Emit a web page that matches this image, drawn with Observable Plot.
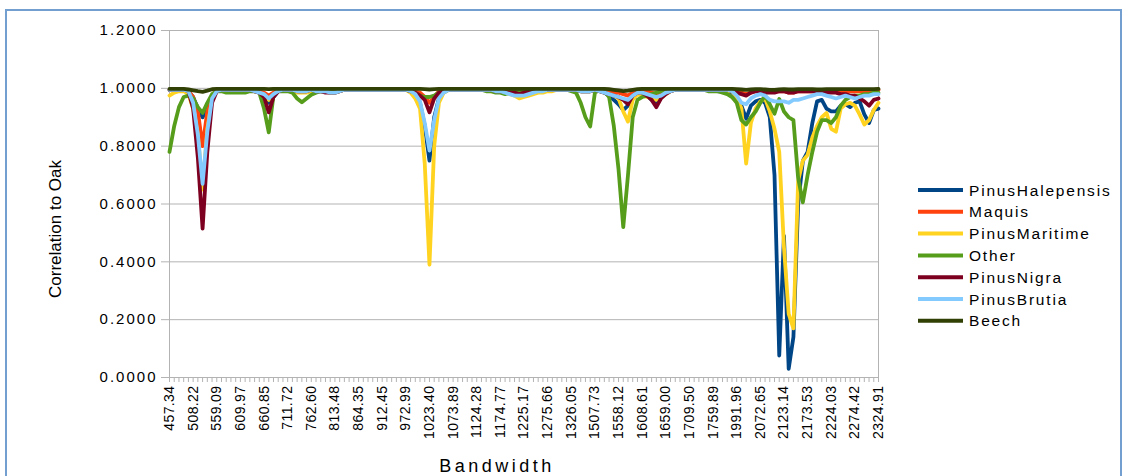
<!DOCTYPE html>
<html><head><meta charset="utf-8">
<script src="https://cdn.jsdelivr.net/npm/d3@7"></script>
<script src="https://cdn.jsdelivr.net/npm/@observablehq/plot@0.6"></script>
<style>
html,body{margin:0;padding:0;background:#fff;overflow:hidden}
#chart svg{display:block;font-family:"Liberation Sans",Arial,sans-serif}
#chart svg [aria-label="y-axis tick label"] text{letter-spacing:2px}
#chart svg [aria-label="x-axis tick label"] text{letter-spacing:0.4px}
</style></head><body><div id="chart"></div>
<script>
const bands = [
"457.34","467.52","477.69","487.87","498.04","508.22","518.39","528.57","538.74","548.92",
"559.09","569.27","579.45","589.62","599.80","609.97","620.15","630.32","640.50","650.67",
"660.85","671.02","681.20","691.37","701.55","711.72","721.90","732.07","742.25","752.43",
"762.60","772.78","782.95","793.13","803.30","813.48","823.65","833.83","844.00","854.18",
"864.35","874.53","884.70","894.88","905.05","912.45","922.54","932.64","952.82","962.91",
"972.99","983.08","993.17","1003.30","1013.30","1023.40","1033.49","1043.59","1053.69","1063.79",
"1073.89","1083.99","1094.09","1104.19","1114.19","1124.28","1134.38","1144.48","1154.58","1164.68",
"1174.77","1184.87","1194.97","1205.07","1215.17","1225.17","1235.27","1245.36","1255.46","1265.56",
"1275.66","1285.76","1295.86","1305.96","1316.05","1326.05","1336.15","1346.25","1487.53","1497.63",
"1507.73","1517.83","1527.92","1537.92","1548.02","1558.12","1568.22","1578.32","1588.42","1598.51",
"1608.61","1618.71","1628.81","1638.81","1648.90","1659.00","1669.10","1679.20","1689.20","1699.40",
"1709.50","1719.60","1729.70","1739.70","1749.79","1759.89","1769.99","1780.09","1971.85","1981.86",
"1991.96","2002.06","2012.16","2052.45","2062.55","2072.65","2082.75","2092.84","2102.94","2113.04",
"2123.14","2133.24","2143.34","2153.34","2163.43","2173.53","2183.63","2193.73","2203.83","2213.93",
"2224.03","2234.12","2244.22","2254.22","2264.32","2274.42","2284.52","2294.61","2304.71","2314.81",
"2324.91"];

const tickLabels = ["457.34","508.22","559.09","609.97","660.85","711.72","762.60","813.48","864.35","912.45",
"972.99","1023.40","1073.89","1124.28","1174.77","1225.17","1275.66","1326.05","1507.73","1558.12",
"1608.61","1659.00","1709.50","1759.89","1991.96","2072.65","2123.14","2173.53","2224.03","2274.42","2324.91"];

const yTicks = [0, 0.2, 0.4, 0.6, 0.8, 1.0, 1.2];

const seriesNames = ["PinusHalepensis","Maquis","PinusMaritime","Other","PinusNigra","PinusBrutia","Beech"];
const seriesColors = ["#004586","#ff420e","#ffd320","#579d1c","#7e0021","#83caff","#314004"];

const pinusHalepensis = [
.995,.995,.995,.995,.99,.97,.93,.90,.93,.97,
.99,.995,.995,.995,.995,.995,.995,.995,.99,.985,
.97,.95,.97,.99,.995,.995,.995,.99,.99,.99,
.995,.995,.99,.99,.985,.985,.99,.995,.995,.995,
.995,.995,.995,.995,.995,.995,.995,.995,.995,.995,
.995,.99,.98,.95,.87,.75,.90,.965,.985,.995,
.995,.995,.995,.995,.995,.995,.995,.995,.995,.99,
.99,.99,.985,.98,.975,.98,.985,.99,.99,.995,
.995,.995,.995,.995,.995,.995,.995,.99,.99,.99,
.995,.99,.985,.975,.96,.945,.925,.94,.97,.985,
.985,.975,.96,.95,.97,.985,.99,.995,.995,.995,
.995,.995,.995,.995,.995,.995,.99,.99,.99,.985,
.97,.94,.895,.94,.955,.96,.95,.90,.70,.076,
.49,.03,.14,.60,.75,.78,.88,.955,.96,.93,
.92,.92,.94,.945,.935,.95,.955,.91,.88,.925,
.93];

const maquis = [
.995,.995,.995,.995,.99,.97,.92,.80,.92,.975,
.995,.995,.995,.995,.995,.995,.995,.995,.99,.99,
.985,.975,.985,.995,.995,.995,.995,.995,.995,.995,
.995,.995,.995,.99,.99,.99,.995,.995,.995,.995,
.995,.995,.995,.995,.995,.995,.995,.995,.995,.995,
.995,.995,.99,.985,.97,.95,.97,.99,.995,.995,
.995,.995,.995,.995,.995,.995,.995,.995,.995,.995,
.995,.995,.99,.99,.99,.99,.99,.995,.995,.995,
.995,.995,.995,.995,.995,.995,.995,.995,.995,.995,
.995,.995,.99,.99,.985,.985,.98,.975,.985,.99,
.99,.99,.985,.98,.985,.99,.995,.995,.995,.995,
.995,.995,.995,.995,.995,.995,.995,.995,.995,.99,
.99,.985,.98,.985,.99,.99,.99,.99,.99,.99,
.99,.985,.985,.99,.99,.99,.99,.99,.99,.99,
.99,.99,.99,.99,.99,.99,.99,.99,.985,.99,
.995];

const pinusMaritime = [
.975,.985,.99,.99,.98,.93,.84,.65,.86,.96,
.99,.995,.995,.995,.995,.995,.995,.995,.99,.985,
.975,.96,.975,.99,.995,.995,.99,.985,.985,.985,
.99,.99,.99,.99,.985,.985,.99,.995,.995,.995,
.995,.995,.995,.995,.995,.995,.995,.995,.995,.995,
.995,.985,.965,.93,.74,.39,.80,.95,.985,.995,
.995,.995,.995,.995,.995,.995,.995,.995,.99,.99,
.99,.985,.98,.975,.965,.97,.975,.98,.985,.985,
.99,.99,.995,.995,.995,.995,.995,.99,.99,.99,
.995,.99,.985,.98,.975,.965,.92,.885,.96,.98,
.975,.97,.965,.96,.97,.98,.99,.995,.995,.995,
.995,.995,.995,.995,.995,.995,.995,.99,.99,.99,
.97,.93,.74,.88,.93,.955,.965,.92,.86,.78,
.45,.22,.17,.68,.75,.77,.83,.87,.90,.915,
.86,.85,.93,.945,.95,.94,.91,.875,.89,.925,
.95];

const other = [
.78,.87,.935,.97,.975,.965,.935,.915,.95,.98,
.99,.99,.985,.985,.985,.985,.985,.99,.99,.985,
.93,.848,.975,.99,.99,.99,.985,.965,.952,.965,
.978,.985,.99,.99,.99,.99,.995,.995,.995,.995,
.995,.995,.995,.995,.995,.995,.995,.995,.995,.995,
.995,.99,.985,.975,.97,.97,.975,.985,.99,.995,
.995,.995,.995,.995,.995,.995,.995,.99,.99,.985,
.985,.98,.985,.99,.99,.99,.99,.995,.995,.995,
.995,.995,.995,.995,.995,.99,.985,.95,.90,.868,
.985,.995,.99,.97,.87,.72,.52,.70,.90,.96,
.97,.975,.98,.985,.99,.99,.995,.995,.995,.995,
.995,.995,.995,.995,.99,.99,.99,.985,.98,.97,
.95,.89,.875,.90,.92,.95,.975,.945,.912,.963,
.92,.90,.89,.69,.606,.70,.78,.85,.89,.89,
.88,.90,.94,.96,.97,.975,.975,.98,.98,.985,
.985];

const pinusNigra = [
.995,.995,.995,.995,.99,.93,.76,.515,.78,.95,
.99,.995,.995,.995,.995,.995,.995,.995,.99,.985,
.97,.917,.97,.99,.995,.995,.995,.99,.99,.99,
.995,.99,.99,.985,.985,.985,.99,.995,.995,.995,
.995,.995,.995,.995,.995,.995,.995,.995,.995,.995,
.995,.99,.985,.975,.96,.917,.965,.985,.99,.995,
.995,.995,.995,.995,.995,.995,.995,.995,.995,.99,
.99,.99,.985,.985,.98,.985,.99,.99,.995,.995,
.995,.995,.995,.995,.995,.995,.995,.99,.99,.99,
.995,.99,.985,.98,.975,.97,.96,.945,.975,.985,
.985,.975,.96,.935,.965,.98,.99,.995,.995,.995,
.995,.995,.995,.995,.995,.995,.995,.995,.995,.99,
.985,.98,.975,.985,.99,.99,.985,.985,.985,.99,
.99,.985,.985,.99,.99,.99,.99,.99,.985,.985,
.985,.985,.98,.98,.975,.975,.965,.955,.94,.96,
.965];

const pinusBrutia = [
.995,.995,.995,.995,.99,.95,.84,.67,.85,.965,
.99,.995,.995,.995,.995,.995,.995,.995,.99,.985,
.98,.965,.98,.99,.995,.995,.995,.99,.99,.99,
.995,.99,.99,.99,.985,.985,.99,.995,.995,.995,
.995,.995,.995,.995,.995,.995,.995,.995,.995,.995,
.995,.99,.98,.955,.88,.785,.89,.965,.985,.995,
.995,.995,.995,.995,.995,.995,.995,.995,.995,.99,
.99,.985,.98,.975,.975,.975,.98,.985,.99,.99,
.995,.995,.995,.995,.995,.995,.995,.99,.99,.99,
.995,.99,.985,.98,.975,.97,.965,.96,.975,.985,
.985,.98,.975,.97,.975,.985,.99,.995,.995,.995,
.995,.995,.995,.995,.995,.995,.995,.995,.995,.99,
.975,.95,.945,.965,.975,.98,.975,.96,.955,.955,
.955,.95,.96,.96,.965,.97,.975,.98,.98,.975,
.97,.965,.97,.975,.97,.965,.97,.975,.975,.98,
.98];

const beech = [
.998,.998,.998,.998,.996,.993,.99,.988,.992,.997,
.998,.998,.998,.998,.998,.998,.998,.998,.998,.998,
.998,.997,.998,.998,.998,.998,.998,.998,.998,.998,
.998,.998,.998,.998,.998,.998,.998,.998,.998,.998,
.998,.998,.998,.998,.998,.998,.998,.998,.998,.998,
.998,.998,.998,.998,.997,.996,.997,.998,.998,.998,
.998,.998,.998,.998,.998,.998,.998,.998,.998,.998,
.998,.998,.998,.998,.998,.998,.998,.998,.998,.998,
.998,.998,.998,.998,.998,.998,.998,.998,.998,.998,
.998,.998,.998,.997,.995,.993,.99,.992,.995,.997,
.998,.998,.998,.998,.998,.998,.998,.998,.998,.998,
.998,.998,.998,.998,.998,.998,.998,.998,.998,.998,
.997,.996,.995,.996,.997,.997,.996,.995,.995,.996,
.997,.996,.996,.997,.997,.997,.997,.996,.996,.997,
.997,.997,.997,.997,.997,.997,.997,.997,.997,.997,
.998];

const seriesValues = [pinusHalepensis, maquis, pinusMaritime, other, pinusNigra, pinusBrutia, beech];

const data = [];
seriesNames.forEach((name, s) => {
  seriesValues[s].forEach((v, i) => data.push({series: name, band: bands[i], value: v}));
});

const W = 1128, H = 476;
const plot = Plot.plot({
  width: W, height: H,
  marginLeft: 169, marginRight: 250, marginTop: 30, marginBottom: 99,
  style: {fontFamily: '"Liberation Sans", Arial, sans-serif', background: "#fff", color: "#000"},
  x: {type: "point", domain: bands, padding: 0, label: null},
  y: {domain: [0, 1.2], label: null},
  color: {domain: seriesNames, range: seriesColors},
  marks: [
    Plot.gridY(yTicks, {stroke: "#b3b3b3", strokeOpacity: 1}),
    Plot.frame({stroke: "#b3b3b3"}),
    Plot.axisY(yTicks, {tickFormat: d3.format(".4f"), tickSize: 8, tickPadding: 4, fontSize: 15,
      stroke: "#b3b3b3", fill: "#000", label: null}),
    Plot.axisX(bands, {tickSize: 5, tickPadding: 3, tickRotate: -90, fontSize: 14,
      tickFormat: d => tickLabels.includes(d) ? d : "", stroke: "#b3b3b3", fill: "#000", label: null}),
    Plot.lineY(data, {x: "band", y: "value", z: "series", stroke: "series", strokeWidth: 3.8,
      strokeLinejoin: "round", strokeLinecap: "round"})
  ]
});

document.getElementById("chart").appendChild(plot);

const svg = d3.select(plot);
// outer chart border
svg.insert("rect", ":first-child")
  .attr("x", 6).attr("y", 10).attr("width", 1115).attr("height", 490)
  .attr("fill", "none").attr("stroke", "#729fcf").attr("stroke-width", 2);

// axis titles
svg.append("text")
  .attr("transform", "translate(61,229) rotate(-90)")
  .attr("text-anchor", "middle").attr("font-size", 17).attr("fill", "#000")
  .text("Correlation to Oak");
svg.append("text")
  .attr("x", 497).attr("y", 472)
  .attr("text-anchor", "middle").attr("font-size", 18).attr("letter-spacing", "3.5px").attr("fill", "#000")
  .text("Bandwidth");

// legend
const lg = svg.append("g").attr("text-anchor", "start");
seriesNames.forEach((name, i) => {
  const y = 190 + i * 21.8;
  lg.append("line").attr("x1", 918).attr("x2", 963).attr("y1", y).attr("y2", y)
    .attr("stroke", seriesColors[i]).attr("stroke-width", 4);
  lg.append("text").attr("x", 969).attr("y", y).attr("dy", "0.36em")
    .attr("text-anchor", "start")
    .attr("font-size", 15.5).attr("letter-spacing", "1.8px").attr("fill", "#000")
    .text(name);
});
</script></body></html>
